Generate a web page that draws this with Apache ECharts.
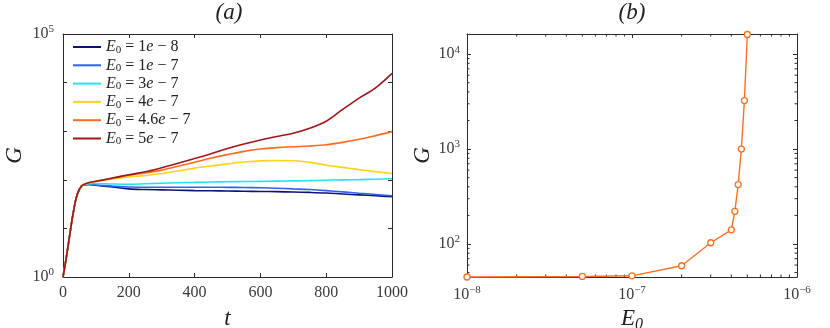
<!DOCTYPE html>
<html>
<head>
<meta charset="utf-8">
<script src="https://cdn.jsdelivr.net/npm/echarts@6/dist/echarts.min.js"></script>
<style>
  html, body { margin: 0; padding: 0; background: #fff; }
  #chart { width: 830px; height: 328px; }
</style>
</head>
<body>
<div id="chart"></div>
<script>
// panel (a): G(t) for several E0
const tValues = [0, 10, 20, 30, 40, 50, 60, 80, 100, 150, 200, 250, 300, 350, 400, 450, 500, 550, 600, 650, 700, 750, 800, 850, 900, 950, 1000]
const e0Names = ['1e-8', '1e-7', '3e-7', '4e-7', '4.6e-7', '5e-7']
const e0Colors = ['#10127a', '#2f62ee', '#1fe3f3', '#ffd21c', '#ff6a1c', '#a3151a']
const gE1e8 = [1, 2.5, 7, 19, 42, 64, 78, 80, 77, 71, 65, 63, 62, 61, 60, 59.5, 59, 58, 57.5, 57, 56, 55, 53.5, 51, 49, 47, 45]
const gE1e7 = [1, 2.5, 7, 19, 42, 64, 78, 80, 78, 74, 71, 70.5, 70.5, 70.5, 70.5, 70.5, 70, 69.5, 68.5, 67, 65, 63, 60, 56.5, 53, 50, 47]
const gE3e7 = [1, 2.5, 7, 19, 42, 64, 78, 83, 84, 82, 81, 83, 85, 87, 88.5, 90, 91, 92, 93, 94, 95, 96, 98, 99.5, 101, 103, 105]
const gE4e7 = [1, 2.5, 7, 19, 42, 64, 78, 88, 93, 104, 115, 122, 135, 152, 174, 192, 213, 232, 245, 250, 247, 228, 200, 180, 162, 147, 135]
const gE46e7 = [1, 2.5, 7, 19, 42, 64, 78, 88, 93, 107, 124, 138, 158, 190, 229, 280, 330, 385, 430, 460, 478, 495, 525, 590, 680, 810, 980]
const gE5e7 = [1, 2.5, 7, 19, 42, 64, 78, 88, 93, 109, 127, 146, 177, 218, 273, 345, 440, 545, 660, 780, 910, 1150, 1600, 2800, 4800, 7800, 15500]
const gSeries = [gE1e8, gE1e7, gE3e7, gE4e7, gE46e7, gE5e7]

// panel (b): final G vs E0
const e0Values = [1e-8, 5e-8, 1e-7, 2e-7, 3e-7, 4e-7, 4.2e-7, 4.4e-7, 4.6e-7, 4.8e-7, 5e-7]
const gFinal = [44.9, 45.5, 46.2, 59, 103, 141, 221, 423, 1000, 3240, 16100]

// tick values
const tTicks = [0, 200, 400, 600, 800, 1000]
const minorE0 = [2e-8, 3e-8, 4e-8, 5e-8, 6e-8, 7e-8, 8e-8, 9e-8, 2e-7, 3e-7, 4e-7, 5e-7, 6e-7, 7e-7, 8e-7, 9e-7]
const minorG = [50, 60, 70, 80, 90, 200, 300, 400, 500, 600, 700, 800, 900, 2000, 3000, 4000, 5000, 6000, 7000, 8000, 9000]

const bRange = { xMin: 1e-8, xMax: 1e-6, yMin: 44.9, yMax: 16300 }

const FONT = 'Liberation Serif'
const AXIS_COLOR = '#2b2b2b'
const LABEL_COLOR = '#3a3a3a'

const supRich = {
  b: { fontFamily: FONT, fontSize: 16, color: LABEL_COLOR },
  s: { fontFamily: FONT, fontSize: 11, color: LABEL_COLOR, padding: [0, 0, 9, 0] }
}

function powLabel (value) {
  const lg = Math.log10(value)
  const ex = Math.round(lg)
  if (Math.abs(lg - ex) > 1e-6) return ''
  return '{b|10}{s|' + String(ex).replace('-', '\u2212') + '}'
}

function legendLabel (name) {
  const parts = name.split('e-')
  return '{i|E}{s|0}{n| = ' + parts[0] + '}{i|e}{n| \u2212 ' + parts[1] + '}'
}

function boxAxis (extra) {
  return Object.assign({
    axisLine: { show: true, onZero: false, lineStyle: { color: AXIS_COLOR, width: 1 } },
    axisTick: { show: true, inside: true, length: 4, lineStyle: { color: AXIS_COLOR } },
    splitLine: { show: false },
    minorTick: { show: false }
  }, extra)
}

const nameStyle = {
  fontFamily: FONT,
  fontStyle: 'italic',
  fontSize: 23,
  color: '#222',
  rich: {
    i: { fontFamily: FONT, fontStyle: 'italic', fontSize: 23, color: '#222' },
    s: { fontFamily: FONT, fontSize: 16, color: '#222', padding: [10, 0, 0, 0] }
  }
}

const chart = echarts.init(document.getElementById('chart'), null, { renderer: 'canvas' })

const lineSeries = e0Names.map((name, k) => ({
  name: name,
  type: 'line',
  xAxisIndex: 0,
  yAxisIndex: 0,
  data: tValues.map((t, j) => [t, gSeries[k][j]]),
  symbol: 'none',
  smooth: 0.35,
  lineStyle: { color: e0Colors[k], width: 1.6 },
  itemStyle: { color: e0Colors[k] },
  z: 3 + k
}))

function minorTickSeries (values, dir) {
  return {
    type: 'custom',
    xAxisIndex: 2,
    yAxisIndex: 2,
    silent: true,
    clip: false,
    data: values,
    renderItem: (params, api) => {
      const v = api.value(0)
      const len = 2.5
      let a, b
      if (dir === 'x') {
        a = api.coord([v, bRange.yMin])
        b = api.coord([v, bRange.yMax])
        return {
          type: 'group',
          children: [
            { type: 'line', shape: { x1: a[0], y1: a[1], x2: a[0], y2: a[1] - len }, style: { stroke: AXIS_COLOR, lineWidth: 1 } },
            { type: 'line', shape: { x1: b[0], y1: b[1], x2: b[0], y2: b[1] + len }, style: { stroke: AXIS_COLOR, lineWidth: 1 } }
          ]
        }
      }
      a = api.coord([bRange.xMin, v])
      b = api.coord([bRange.xMax, v])
      return {
        type: 'group',
        children: [
          { type: 'line', shape: { x1: a[0], y1: a[1], x2: a[0] + len, y2: a[1] }, style: { stroke: AXIS_COLOR, lineWidth: 1 } },
          { type: 'line', shape: { x1: b[0], y1: b[1], x2: b[0] - len, y2: b[1] }, style: { stroke: AXIS_COLOR, lineWidth: 1 } }
        ]
      }
    }
  }
}

const option = {
  animation: false,
  backgroundColor: '#fff',
  graphic: [
    { type: 'text', x: 229, y: 13, style: { text: '(a)', font: 'italic 23px "Liberation Serif"', fill: '#222', align: 'center', verticalAlign: 'middle' } },
    { type: 'text', x: 632, y: 13, style: { text: '(b)', font: 'italic 23px "Liberation Serif"', fill: '#222', align: 'center', verticalAlign: 'middle' } }
  ],
  grid: [
    { left: 63, top: 34, width: 329, height: 243, outerBoundsMode: 'none', containLabel: false },
    { left: 467, top: 34, width: 330, height: 243, outerBoundsMode: 'none', containLabel: false }
  ],
  legend: {
    data: e0Names.map((n, k) => ({ name: n, icon: 'rect', itemStyle: { color: e0Colors[k] } })),
    orient: 'vertical',
    left: 73,
    top: 39,
    padding: 0,
    itemWidth: 28,
    itemHeight: 2,
    itemGap: 1.8,
    formatter: legendLabel,
    textStyle: {
      fontFamily: FONT,
      fontSize: 16,
      color: '#222',
      lineHeight: 15,
      rich: {
        i: { fontFamily: FONT, fontStyle: 'italic', fontSize: 16, color: '#222' },
        n: { fontFamily: FONT, fontSize: 16, color: '#222' },
        s: { fontFamily: FONT, fontSize: 11, color: '#222', padding: [6, 0, 0, 0] }
      }
    }
  },
  xAxis: [
    boxAxis({
      type: 'value', gridIndex: 0, min: 0, max: 1000, interval: 200, position: 'bottom',
      name: 't', nameLocation: 'middle', nameGap: 30, nameTextStyle: nameStyle,
      axisLabel: { margin: 8, fontFamily: FONT, fontSize: 16, color: LABEL_COLOR, formatter: (v) => (tTicks.indexOf(v) >= 0 ? String(v) : '') }
    }),
    boxAxis({ type: 'value', gridIndex: 0, min: 0, max: 1000, interval: 200, position: 'top', axisLabel: { show: false } }),
    boxAxis({
      type: 'log', gridIndex: 1, min: bRange.xMin, max: bRange.xMax, position: 'bottom',
      name: '{i|E}{s|0}', nameLocation: 'middle', nameGap: 28, nameTextStyle: nameStyle,
      axisLabel: { margin: 8, formatter: powLabel, rich: supRich, hideOverlap: false, showMinLabel: true, showMaxLabel: true }
    }),
    boxAxis({ type: 'log', gridIndex: 1, min: bRange.xMin, max: bRange.xMax, position: 'top', axisLabel: { show: false } })
  ],
  yAxis: [
    boxAxis({
      type: 'log', gridIndex: 0, min: 1, max: 1e5, position: 'left',
      name: 'G', nameLocation: 'middle', nameGap: 37, nameRotate: 90, nameTextStyle: nameStyle,
      axisLabel: { margin: 9, formatter: (v) => (Math.abs(v - 1) < 1e-9 || Math.abs(v - 1e5) < 1e-3 ? powLabel(v) : ''), rich: supRich, hideOverlap: false, showMinLabel: true, showMaxLabel: true }
    }),
    boxAxis({ type: 'log', gridIndex: 0, min: 1, max: 1e5, position: 'right', axisLabel: { show: false } }),
    boxAxis({
      type: 'log', gridIndex: 1, min: bRange.yMin, max: bRange.yMax, position: 'left',
      name: 'G', nameLocation: 'middle', nameGap: 32, nameRotate: 90, nameTextStyle: nameStyle,
      axisLabel: { margin: 7, formatter: powLabel, rich: supRich, hideOverlap: false }
    }),
    boxAxis({ type: 'log', gridIndex: 1, min: bRange.yMin, max: bRange.yMax, position: 'right', axisLabel: { show: false } })
  ],
  series: lineSeries.concat([
    {
      name: 'G_final',
      type: 'line',
      xAxisIndex: 2,
      yAxisIndex: 2,
      data: e0Values.map((e, j) => [e, gFinal[j]]),
      symbol: 'circle',
      symbolSize: 6,
      showAllSymbol: true,
      clip: false,
      lineStyle: { color: '#ff6f1f', width: 1.4 },
      itemStyle: { color: '#fff', borderColor: '#ff6f1f', borderWidth: 1.3 },
      z: 5
    },
    minorTickSeries(minorE0, 'x'),
    minorTickSeries(minorG, 'y')
  ])
}

chart.setOption(option)
</script>
</body>
</html>
